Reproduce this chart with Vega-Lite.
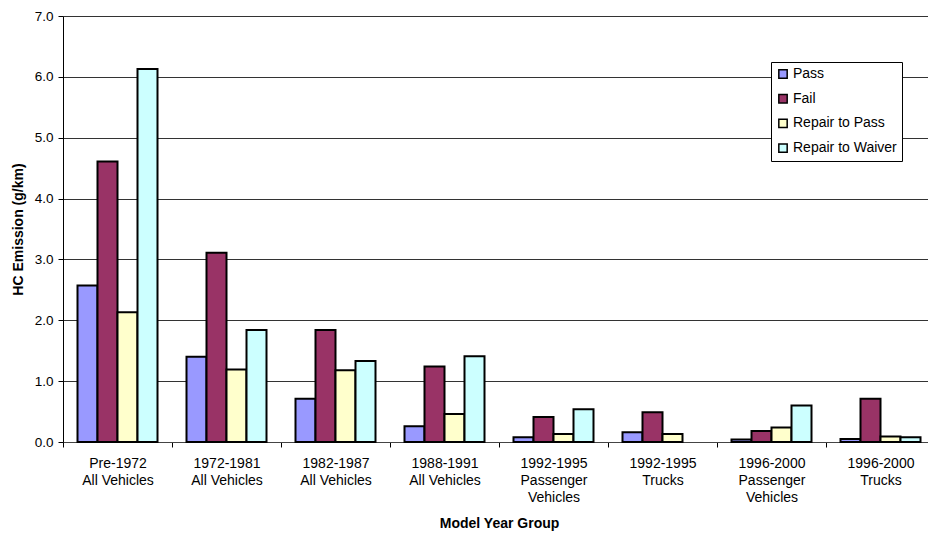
{
  "$schema": "https://vega.github.io/schema/vega-lite/v6.json",
  "width": 865,
  "height": 426,
  "autosize": {"type": "none"},
  "padding": {"left": 63, "top": 16, "right": 0, "bottom": 93},
  "background": "white",
  "config": {"view": {"stroke": null}, "font": "Liberation Sans"},
  "data": {
    "values": [
      {"group": "Pre-1972|All Vehicles", "status": "Pass", "value": 2.57},
      {"group": "Pre-1972|All Vehicles", "status": "Fail", "value": 4.61},
      {"group": "Pre-1972|All Vehicles", "status": "Repair to Pass", "value": 2.13},
      {"group": "Pre-1972|All Vehicles", "status": "Repair to Waiver", "value": 6.13},
      {"group": "1972-1981|All Vehicles", "status": "Pass", "value": 1.40},
      {"group": "1972-1981|All Vehicles", "status": "Fail", "value": 3.11},
      {"group": "1972-1981|All Vehicles", "status": "Repair to Pass", "value": 1.19},
      {"group": "1972-1981|All Vehicles", "status": "Repair to Waiver", "value": 1.84},
      {"group": "1982-1987|All Vehicles", "status": "Pass", "value": 0.71},
      {"group": "1982-1987|All Vehicles", "status": "Fail", "value": 1.84},
      {"group": "1982-1987|All Vehicles", "status": "Repair to Pass", "value": 1.18},
      {"group": "1982-1987|All Vehicles", "status": "Repair to Waiver", "value": 1.33},
      {"group": "1988-1991|All Vehicles", "status": "Pass", "value": 0.26},
      {"group": "1988-1991|All Vehicles", "status": "Fail", "value": 1.24},
      {"group": "1988-1991|All Vehicles", "status": "Repair to Pass", "value": 0.46},
      {"group": "1988-1991|All Vehicles", "status": "Repair to Waiver", "value": 1.41},
      {"group": "1992-1995|Passenger|Vehicles", "status": "Pass", "value": 0.08},
      {"group": "1992-1995|Passenger|Vehicles", "status": "Fail", "value": 0.41},
      {"group": "1992-1995|Passenger|Vehicles", "status": "Repair to Pass", "value": 0.13},
      {"group": "1992-1995|Passenger|Vehicles", "status": "Repair to Waiver", "value": 0.54},
      {"group": "1992-1995|Trucks", "status": "Pass", "value": 0.16},
      {"group": "1992-1995|Trucks", "status": "Fail", "value": 0.49},
      {"group": "1992-1995|Trucks", "status": "Repair to Pass", "value": 0.13},
      {"group": "1996-2000|Passenger|Vehicles", "status": "Pass", "value": 0.04},
      {"group": "1996-2000|Passenger|Vehicles", "status": "Fail", "value": 0.18},
      {"group": "1996-2000|Passenger|Vehicles", "status": "Repair to Pass", "value": 0.24},
      {"group": "1996-2000|Passenger|Vehicles", "status": "Repair to Waiver", "value": 0.60},
      {"group": "1996-2000|Trucks", "status": "Pass", "value": 0.05},
      {"group": "1996-2000|Trucks", "status": "Fail", "value": 0.71},
      {"group": "1996-2000|Trucks", "status": "Repair to Pass", "value": 0.09},
      {"group": "1996-2000|Trucks", "status": "Repair to Waiver", "value": 0.08}
    ]
  },
  "mark": {"type": "bar", "stroke": "black", "strokeWidth": 2},
  "encoding": {
    "x": {
      "field": "group",
      "type": "nominal",
      "sort": ["Pre-1972|All Vehicles", "1972-1981|All Vehicles", "1982-1987|All Vehicles", "1988-1991|All Vehicles", "1992-1995|Passenger|Vehicles", "1992-1995|Trucks", "1996-2000|Passenger|Vehicles", "1996-2000|Trucks"],
      "scale": {"range": [0, 872], "paddingInner": 0, "paddingOuter": 0},
      "axis": {
        "title": "Model Year Group",
        "labelAngle": 0,
        "labelExpr": "split(datum.label, '|')",
        "tickBand": "extent",
        "tickSize": 5,
        "tickColor": "black",
        "domainColor": "#444",
        "labelFontSize": 14,
        "labelLineHeight": 17,
        "labelPadding": 9,
        "labelColor": "black",
        "titleFontSize": 14,
        "titleFontWeight": "bold",
        "titleColor": "black",
        "titlePadding": 12
      }
    },
    "xOffset": {
      "field": "status",
      "sort": ["Pass", "Fail", "Repair to Pass", "Repair to Waiver"],
      "scale": {"paddingInner": 0, "paddingOuter": 0.725}
    },
    "y": {
      "field": "value",
      "type": "quantitative",
      "scale": {"domain": [0, 7], "nice": false},
      "axis": {
        "title": "HC Emission (g/km)",
        "values": [0, 1, 2, 3, 4, 5, 6, 7],
        "format": ".1f",
        "grid": true,
        "gridColor": "#333",
        "gridWidth": 1,
        "domainColor": "black",
        "tickColor": "black",
        "tickSize": 5,
        "labelFontSize": 13.5,
        "labelColor": "black",
        "labelPadding": 5,
        "titleFontSize": 14,
        "titleFontWeight": "bold",
        "titleColor": "black",
        "titlePadding": 9
      }
    },
    "color": {
      "field": "status",
      "type": "nominal",
      "scale": {
        "domain": ["Pass", "Fail", "Repair to Pass", "Repair to Waiver"],
        "range": ["#9999FF", "#993366", "#FFFFCC", "#CCFFFF"]
      },
      "legend": {
        "orient": "none",
        "legendX": 708,
        "legendY": 46,
        "title": null,
        "symbolType": "square",
        "symbolSize": 70,
        "symbolStrokeColor": "black",
        "symbolStrokeWidth": 1.5,
        "strokeColor": "black",
        "fillColor": "white",
        "padding": 5,
        "labelFontSize": 14,
        "labelColor": "black",
        "labelOffset": 3,
        "rowPadding": 8.7
      }
    }
  }
}
